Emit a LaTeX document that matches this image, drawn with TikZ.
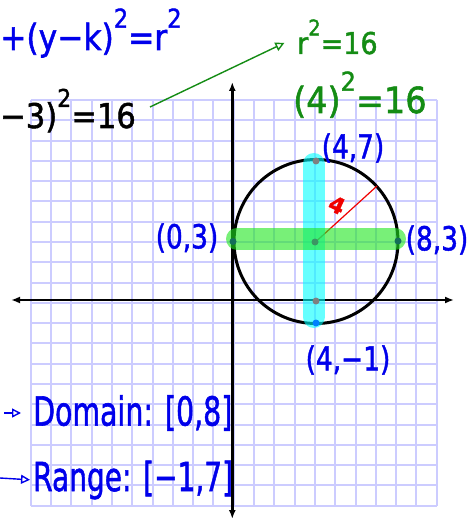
\documentclass[tikz,border=0pt]{standalone}
\usepackage{fontspec}
\setmainfont{DejaVu Sans}
\newfontfamily\inkf[FakeBold=1.5]{DejaVu Sans}
\usetikzlibrary{arrows.meta}
\definecolor{gridc}{RGB}{204,204,255}
\definecolor{inkblue}{RGB}{0,0,235}
\definecolor{inkgreen}{RGB}{20,140,20}
\definecolor{inkred}{RGB}{240,0,0}
\definecolor{hlcyan}{RGB}{0,255,255}
\definecolor{hlgreen}{RGB}{30,230,30}
\definecolor{dotgray}{RGB}{128,128,128}
\definecolor{dotblue}{RGB}{0,130,255}
\definecolor{dotteal}{RGB}{20,110,90}
\definecolor{dotctr}{RGB}{60,150,100}
\newcommand{\hsq}[2]{\scalebox{#1}[1]{#2}}
\newcommand{\sqr}{\raisebox{0.62em}{\scalebox{0.72}{2}}}
\tikzset{
  gridline/.style={gridc, line width=2pt},
  axisline/.style={black, line width=2.8pt, {Latex[length=9pt,width=7pt]}-{Latex[length=9pt,width=7pt]}},
  hlbar/.style={line width=22pt, line cap=round, opacity=0.6},
  dot/.style={circle, inner sep=0pt, minimum size=7pt},
  coordlbl/.style={inner sep=0pt, text=inkblue, font=\inkf\fontsize{33}{35}\selectfont},
  notelbl/.style={inner sep=0pt, font=\inkf\fontsize{40}{42}\selectfont, text=inkblue},
  pointer/.style={line width=1.4pt, -{Triangle[open, length=9pt, width=9pt]}}
}
\begin{document}
\begin{tikzpicture}[x=1pt,y=-1pt]
\useasboundingbox (0,0) rectangle (470,518);
\fill[white] (0,0) rectangle (470,518);
% grid
\foreach \i in {0,...,20} {
  \draw[gridline] ({30.7+20.3*\i},100) -- ({30.7+20.3*\i},505.7);
  \draw[gridline] (30.7,{100+20.285*\i}) -- (436.7,{100+20.285*\i});
}
% axes
\coordinate (ytop) at (232.3,82);
\coordinate (ybot) at (232.3,519);
\coordinate (xleft) at (11,300);
\coordinate (xright) at (454,300);
\draw[axisline] (ybot) -- (ytop);
\draw[axisline] (xleft) -- (xright);
% circle
\coordinate (ctr) at (316,241.5);
\draw[black, line width=3pt] (ctr) circle[radius=82];
% radius
\coordinate (radend) at (377,186);
\draw[inkred, line width=1.2pt] (ctr) -- (radend);
\node[inner sep=0pt, text=inkred, font=\inkf\bfseries\fontsize{22}{22}\selectfont, rotate=-25] (rlab) at (337,205) {4};
% highlights
\coordinate (vtop) at (313.5,164);
\coordinate (vbot) at (313.5,317);
\coordinate (hleft) at (237,238.7);
\coordinate (hright) at (395,238.7);
\draw[hlbar, hlcyan] (vtop) -- (vbot);
\draw[hlbar, hlgreen] (hleft) -- (hright);
% dots
\node[dot, fill=dotgray] (p47) at (316,161) {};
\node[dot, fill=dotgray] (p40) at (316,301) {};
\node[dot, fill=dotblue] (p4m1) at (316,323) {};
\node[dot, fill=dotteal] (p03) at (233,241.5) {};
\node[dot, fill=dotteal] (p83) at (398,241) {};
\node[dot, fill=dotctr] (pc) at (315,242) {};
% point labels
\node[coordlbl] (l47) at (353,148) {\hsq{0.8}{(4,7)}};
\node[coordlbl] (l03) at (187,238) {\hsq{0.8}{(0,3)}};
\node[coordlbl] (l83) at (437,240) {\hsq{0.8}{(8,3)}};
\node[coordlbl] (l4m1) at (348,360) {\hsq{0.8}{(4,−1)}};
% top equations
\node[inner sep=0pt, anchor=base west, text=inkblue, font=\inkf\fontsize{36}{38}\selectfont] (eqgen) at (0,50) {\hsq{0.87}{+(y−k)\sqr=r\sqr}};
\node[inner sep=0pt, anchor=base west, text=black, font=\inkf\fontsize{34}{36}\selectfont] (eqspec) at (0,128) {\hsq{0.9}{−3)\sqr=16}};
\node[inner sep=0pt, anchor=base west, text=inkgreen, font=\inkf\fontsize{30}{32}\selectfont] (rsq) at (297,54) {\hsq{0.9}{r\sqr=16}};
\node[inner sep=0pt, anchor=base west, text=inkgreen, font=\inkf\fontsize{36}{38}\selectfont] (foursq) at (293,113) {\hsq{0.93}{(4)\sqr=16}};
\coordinate (gstart) at (150,107);
\draw[pointer, inkgreen, shorten >=14pt] (gstart) -- (rsq.west);
% domain and range
\node[notelbl, anchor=west] (dom) at (33,413) {\hsq{0.71}{Domain: [0,8]}};
\node[notelbl, anchor=west] (rng) at (33,480) {\hsq{0.70}{Range: [−1,7]}};
\coordinate (da) at (4,413);
\coordinate (ra) at (0,478);
\draw[pointer, inkblue, shorten >=12pt] (da) -- (dom.west);
\draw[pointer, inkblue, shorten >=3pt] (ra) -- (rng.west);
\end{tikzpicture}
\end{document}
